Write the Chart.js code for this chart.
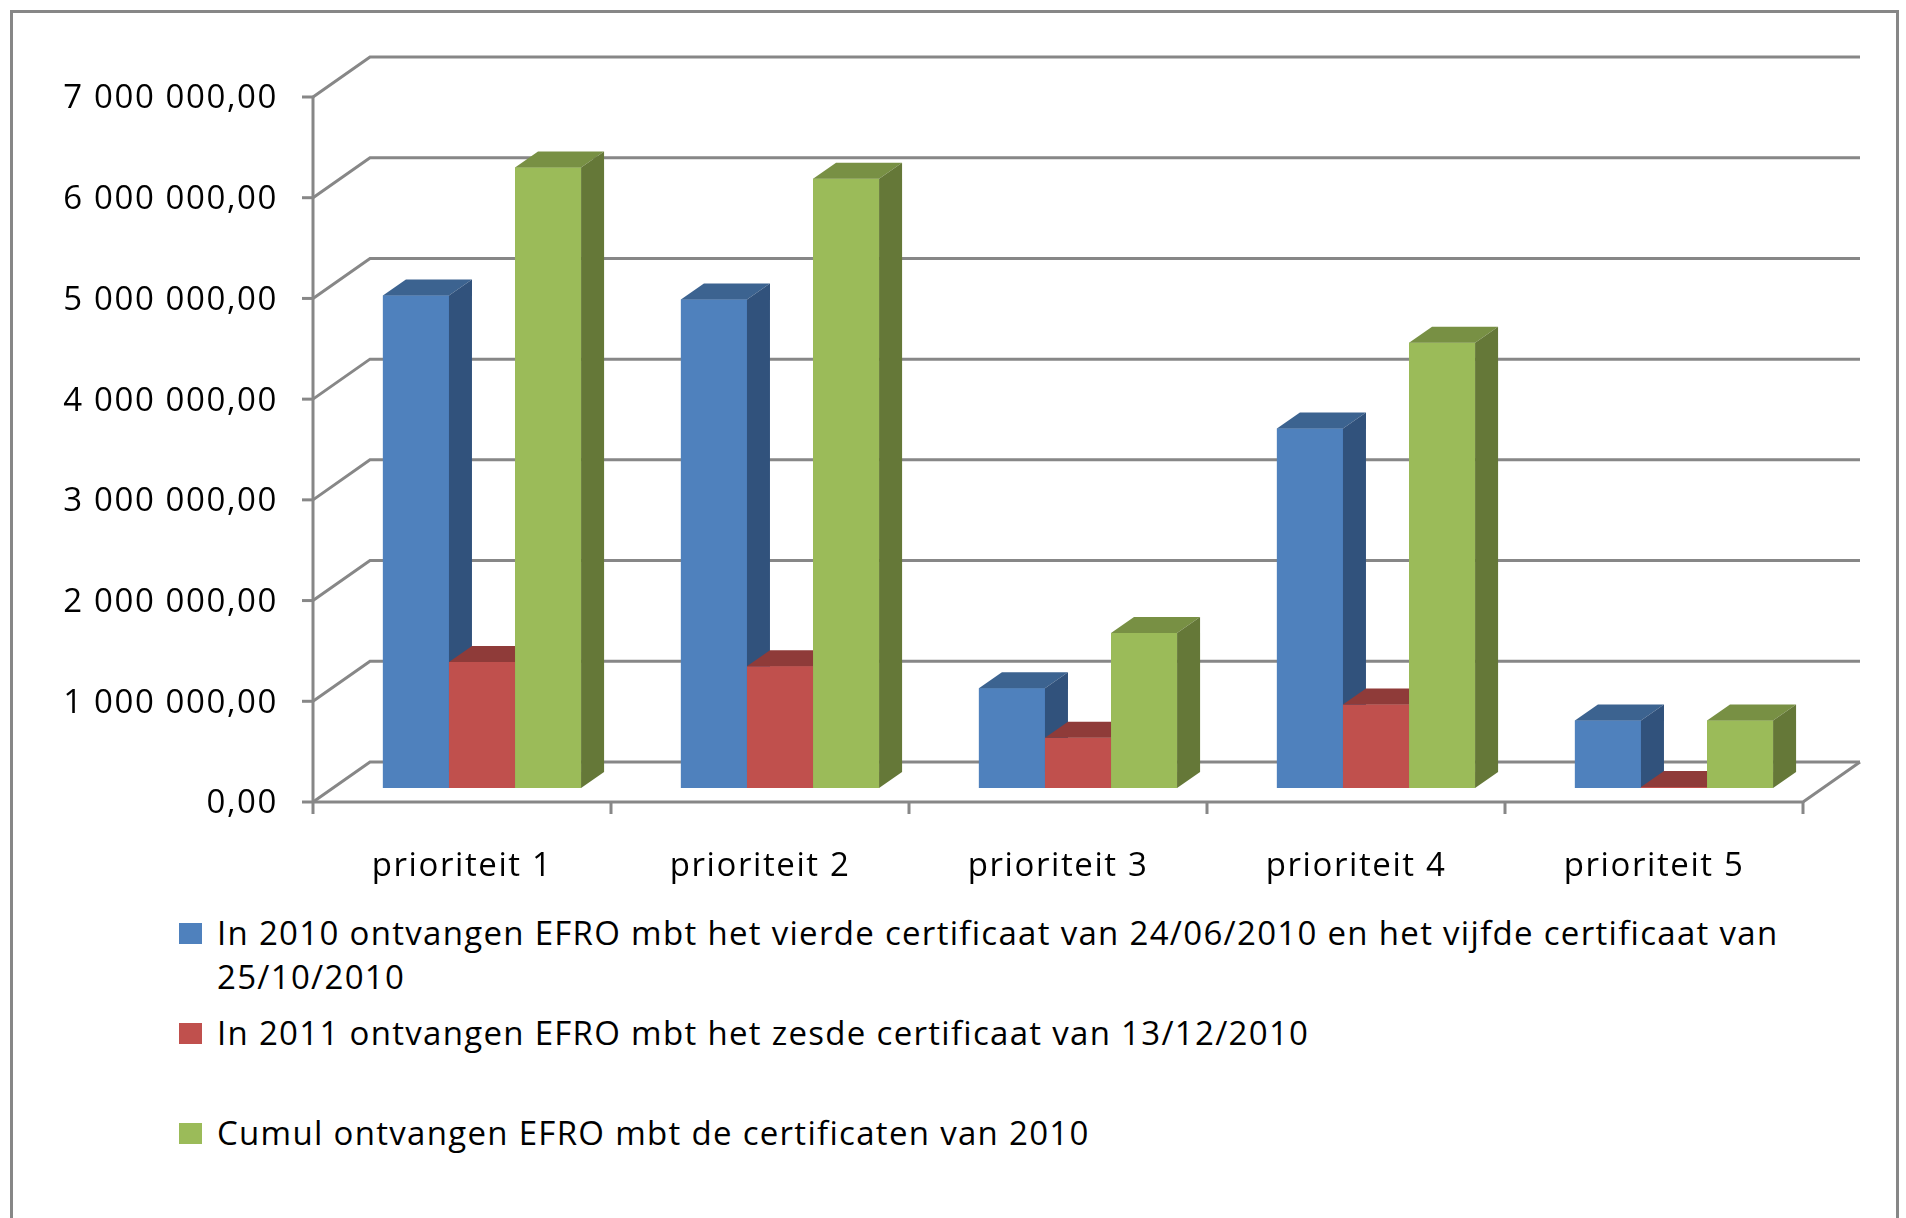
<!DOCTYPE html>
<html>
<head>
<meta charset="utf-8">
<title>EFRO per prioriteit</title>
<script src="https://cdn.jsdelivr.net/npm/chart.js@4.4.1/dist/chart.umd.min.js"></script>
<style>
  html, body { margin: 0; padding: 0; background: #fff; overflow: hidden; }
  #frame { position: absolute; left: 10px; top: 10px; width: 1883px; height: 1300px; border: 3px solid #878787; }
  #wrap { position: absolute; left: 0; top: 0; width: 1906px; height: 900px; }
  #legend { position: absolute; left: 179px; top: 910px; font-family: 'Open Sans', sans-serif; font-size: 33px; color: #000; letter-spacing: 1.3px; }
  .item { position: absolute; left: 0; width: 1700px; }
  .box { position: absolute; left: 0; top: 13px; width: 23px; height: 21px; }
  .txt { position: absolute; left: 38px; top: 1px; width: 1660px; line-height: 44px; }
</style>
</head>
<body>
<div id="frame"></div>
<div id="wrap"><canvas id="chart" width="1906" height="900"></canvas></div>
<div id="legend"></div>
<script>
// data
const categories = ['prioriteit 1', 'prioriteit 2', 'prioriteit 3', 'prioriteit 4', 'prioriteit 5'];
const seriesNames = [
    'In 2010 ontvangen EFRO mbt het vierde certificaat van 24/06/2010 en het vijfde certificaat van 25/10/2010',
    'In 2011 ontvangen EFRO mbt het zesde certificaat van 13/12/2010',
    'Cumul ontvangen EFRO mbt de certificaten van 2010'
];
const received2010 = [4890000, 4850000, 990000, 3570000, 670000];
const received2011 = [1250000, 1210000, 500000, 830000, 10000];
const cumul2010 = [6160000, 6050000, 1540000, 4420000, 670000];
const tickLabels = ['0,00', '1 000 000,00', '2 000 000,00', '3 000 000,00',
    '4 000 000,00', '5 000 000,00', '6 000 000,00', '7 000 000,00'];

// colours: front, top, side
const fronts = ['#4F81BD', '#C0504D', '#9BBB59'];
const tops = ['#3C6390', '#8F3B39', '#789044'];
const sides = ['#31527C', '#7E3331', '#657838'];
const gridColor = '#878787';

// oblique offsets relative to the bar front plane
const FRONT = [-20, 14];
const BACK = [37, -26];
const BAR = [23, -16];

function poly(ctx, pts, color) {
    ctx.beginPath();
    ctx.moveTo(pts[0][0], pts[0][1]);
    for (let i = 1; i < pts.length; i++) ctx.lineTo(pts[i][0], pts[i][1]);
    ctx.closePath();
    ctx.fillStyle = color;
    ctx.fill();
}

const walls = {
    id: 'walls',
    beforeDraw(chart) {
        // the reference text runs a little wider than Open Sans
        chart.ctx.letterSpacing = '1.6px';
    },
    beforeDatasetsDraw(chart) {
        const {ctx, chartArea: a, scales: {x, y}} = chart;
        ctx.save();
        ctx.strokeStyle = gridColor;
        ctx.lineWidth = 3;
        ctx.lineJoin = 'miter';
        const fx = a.left + FRONT[0];
        const bx = a.left + BACK[0];
        y.ticks.forEach(t => {
            const py = y.getPixelForValue(t.value);
            ctx.beginPath();
            ctx.moveTo(fx, py + FRONT[1]);
            ctx.lineTo(bx, py + BACK[1]);
            ctx.lineTo(a.right + BACK[0], py + BACK[1]);
            ctx.stroke();
            ctx.beginPath();
            ctx.moveTo(fx - 11, py + FRONT[1]);
            ctx.lineTo(fx, py + FRONT[1]);
            ctx.stroke();
        });
        const y0 = y.getPixelForValue(0);
        const yTop = y.getPixelForValue(y.max);
        // front value axis
        ctx.beginPath();
        ctx.moveTo(fx, yTop + FRONT[1]);
        ctx.lineTo(fx, y0 + FRONT[1]);
        ctx.stroke();
        // floor front edge and right edge
        ctx.beginPath();
        ctx.moveTo(fx, y0 + FRONT[1]);
        ctx.lineTo(a.right + FRONT[0], y0 + FRONT[1]);
        ctx.lineTo(a.right + BACK[0], y0 + BACK[1]);
        ctx.stroke();
        // category ticks
        for (let i = 0; i <= categories.length; i++) {
            const px = x.getPixelForValue(i - 0.5) + FRONT[0];
            ctx.beginPath();
            ctx.moveTo(px, y0 + FRONT[1]);
            ctx.lineTo(px, y0 + FRONT[1] + 12);
            ctx.stroke();
        }
        ctx.restore();
    },
    afterDatasetsDraw(chart) {
        const ctx = chart.ctx;
        ctx.save();
        chart.data.datasets.forEach((ds, i) => {
            const meta = chart.getDatasetMeta(i);
            meta.data.forEach(bar => {
                const {x, y, base, width} = bar.getProps(['x', 'y', 'base', 'width'], true);
                const l = x - width / 2, r = x + width / 2;
                bar.draw(ctx);
                poly(ctx, [[l, y], [l + BAR[0], y + BAR[1]], [r + BAR[0], y + BAR[1]], [r, y]], tops[i]);
                poly(ctx, [[r, y], [r + BAR[0], y + BAR[1]], [r + BAR[0], base + BAR[1]], [r, base]], sides[i]);
            });
        });
        ctx.restore();
    }
};

Chart.defaults.font.family = "'Open Sans', sans-serif";
Chart.defaults.font.size = 33;
Chart.defaults.color = '#000';

const ctx = document.getElementById('chart').getContext('2d');
const chart = new Chart(ctx, {
    type: 'bar',
    data: {
        labels: categories,
        datasets: [
            { label: seriesNames[0], data: received2010, backgroundColor: fronts[0] },
            { label: seriesNames[1], data: received2011, backgroundColor: fronts[1] },
            { label: seriesNames[2], data: cumul2010, backgroundColor: fronts[2] }
        ]
    },
    options: {
        responsive: false,
        animation: false,
        events: [],
        categoryPercentage: 0.665,
        barPercentage: 1,
        borderWidth: 0,
        layout: { padding: { left: 33, right: 83, top: 83, bottom: 12 } },
        plugins: {
            legend: { display: false },
            tooltip: { enabled: false }
        },
        scales: {
            x: {
                grid: { display: false, drawTicks: false },
                border: { display: false },
                ticks: { padding: 59, labelOffset: FRONT[0], maxRotation: 0 },
                afterFit: s => { s.height = 100; s.paddingLeft = 0; s.paddingRight = 0; }
            },
            y: {
                min: 0,
                max: 7000000,
                grid: { display: false, drawTicks: false },
                border: { display: false },
                ticks: {
                    stepSize: 1000000,
                    padding: 55,
                    labelOffset: FRONT[1] + 2,
                    callback: (v, i) => tickLabels[i]
                },
                afterFit: s => { s.width = 300; s.paddingTop = 0; s.paddingBottom = 0; }
            }
        }
    },
    plugins: [walls]
});

// legend built from the chart's datasets
const legend = document.getElementById('legend');
chart.data.datasets.forEach((ds, i) => {
    const item = document.createElement('div');
    item.className = 'item';
    item.style.top = (i * 100) + 'px';
    const box = document.createElement('span');
    box.className = 'box';
    box.style.background = ds.backgroundColor;
    const txt = document.createElement('span');
    txt.className = 'txt';
    txt.textContent = ds.label;
    item.appendChild(box);
    item.appendChild(txt);
    legend.appendChild(item);
});
</script>
</body>
</html>
